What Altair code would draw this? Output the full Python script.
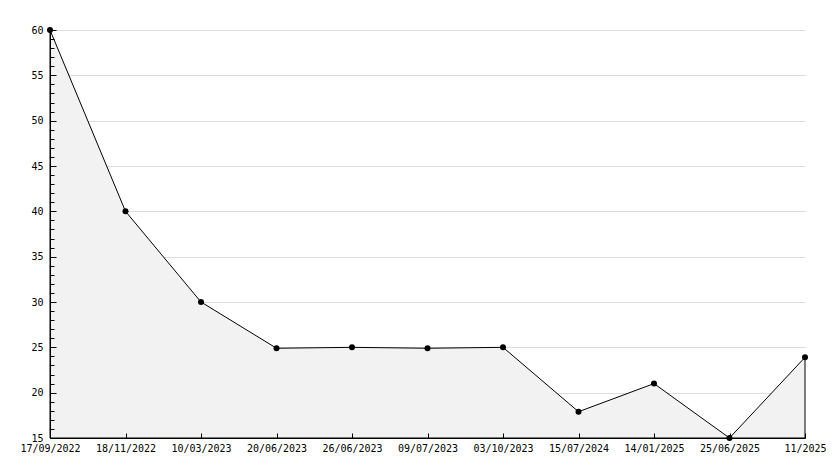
import altair as alt
import pandas as pd

dates = ["17/09/2022", "18/11/2022", "10/03/2023", "20/06/2023", "26/06/2023",
         "09/07/2023", "03/10/2023", "15/07/2024", "14/01/2025", "25/06/2025", "11/2025"]
values = [60, 40, 30, 24.9, 25.0, 24.9, 25.0, 17.9, 21, 15, 23.9]

y_min, y_max = 15, 60
major_ticks = list(range(y_min, y_max + 1, 5))
minor_ticks = list(range(y_min, y_max + 1, 1))

df = pd.DataFrame({"date": dates, "value": values})

FONT = "DejaVu Sans Mono"

xscale = alt.Scale(type="point", padding=0)
yscale = alt.Scale(domain=[y_min, y_max], zero=False, nice=False)

base = alt.Chart(df)

area = base.mark_area(fill="#f2f2f2", fillOpacity=1, stroke="#000000",
                      strokeWidth=1).encode(
    x=alt.X("date:O", sort=dates, scale=xscale,
            axis=alt.Axis(title=None, labelAngle=0, ticks=False, tickSize=0,
                          domain=False, labelPadding=5, labelFont=FONT,
                          labelFontSize=10, labelColor="#000000", grid=False,
                          orient="bottom", zindex=0)),
    y=alt.Y("value:Q", scale=yscale,
            axis=alt.Axis(title=None, values=major_ticks, ticks=False, tickSize=0,
                          domain=False, labelPadding=7, labelFont=FONT,
                          labelFontSize=10, labelColor="#000000", grid=True,
                          gridColor="#dcdcdc", gridWidth=1, orient="left", zindex=0)),
    y2=alt.datum(y_min),
)

line = base.mark_line(strokeOpacity=0).encode(
    x=alt.X("date:O", sort=dates, scale=xscale,
            axis=alt.Axis(title=None, labels=False, domain=False, grid=False,
                          ticks=True, tickSize=5, tickColor="#000000",
                          offset=-5, orient="bottom", zindex=1)),
    y=alt.Y("value:Q", scale=yscale,
            axis=alt.Axis(title=None, values=minor_ticks, labels=False, domain=False,
                          grid=False, ticks=True, tickSize=4, tickColor="#000000",
                          offset=-4, orient="left", zindex=1)),
)

line2 = base.mark_line(strokeOpacity=0).encode(
    x=alt.X("date:O", sort=dates, scale=xscale, axis=None),
    y=alt.Y("value:Q", scale=yscale,
            axis=alt.Axis(title=None, values=major_ticks, labels=False, domain=False,
                          grid=False, ticks=True, tickSize=6, tickColor="#000000",
                          offset=-6, orient="left", zindex=1)),
)

points = base.mark_point(filled=True, color="#000000", size=36, opacity=1).encode(
    x=alt.X("date:O", sort=dates, scale=xscale,
            axis=alt.Axis(title=None, labels=False, ticks=False, grid=False,
                          domain=True, domainColor="#000000", domainWidth=1,
                          orient="bottom", zindex=1)),
    y=alt.Y("value:Q", scale=yscale,
            axis=alt.Axis(title=None, labels=False, ticks=False, grid=False,
                          domain=True, domainColor="#000000", domainWidth=1,
                          orient="left", zindex=1)),
)

chart = alt.layer(area, line, line2, points).resolve_axis(
    x="independent", y="independent"
).properties(
    width=755, height=408,
    autosize=alt.AutoSizeParams(type="none"),
    padding={"left": 42, "top": 22, "right": 21, "bottom": 22},
    background="#ffffff",
).configure_view(stroke=None)

chart.save("out.html", embed_options={"renderer": "svg", "actions": False})
